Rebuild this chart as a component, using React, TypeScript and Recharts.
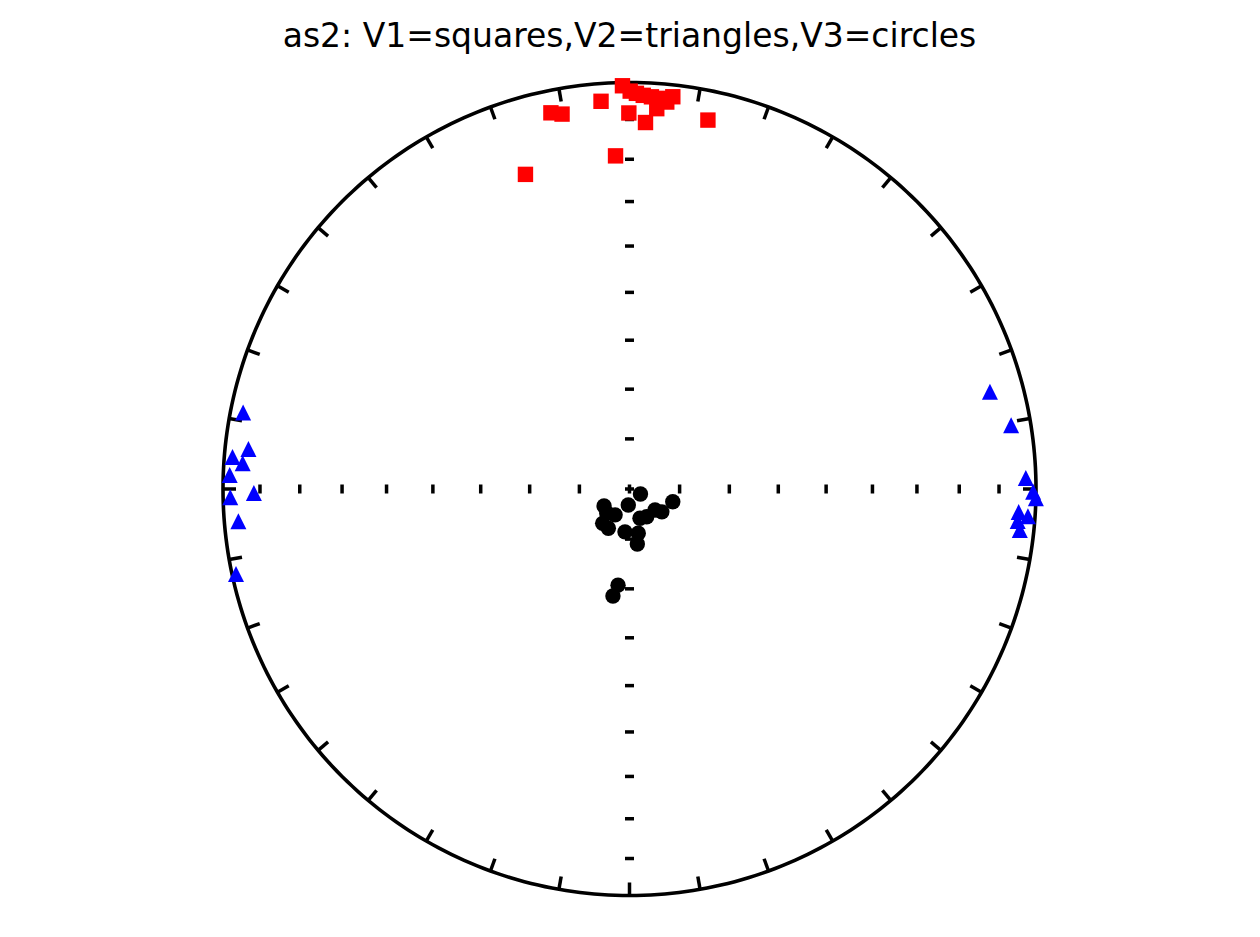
import React from 'react';
import { ScatterChart, Scatter, XAxis, YAxis, ReferenceLine } from 'recharts';

const TITLE = 'as2: V1=squares,V2=triangles,V3=circles';

// V1 eigenvectors (squares): declination / inclination (degrees)
const V1_DEC = [359.0, 0.1, 1.0, 2.0, 3.2, 4.2, 6.3, 5.5, 4.1, 359.9, 2.5, 355.8, 348.2, 349.8, 12.0, 357.6, 341.7];
const V1_INC = [0.9, 2.4, 3.0, 3.5, 3.8, 4.1, 3.3, 4.9, 6.9, 8.3, 10.7, 4.9, 6.1, 7.0, 8.0, 19.1, 19.6];

// V2 eigenvectors (triangles)
const V2_DEC = [281.2, 276.0, 274.6, 273.8, 272.0, 268.8, 269.4, 265.3, 257.8, 74.9, 80.5, 88.4, 90.4, 91.3, 93.4, 93.9, 94.7, 96.0];
const V2_INC = [3.5, 6.4, 2.3, 5.2, 1.8, 2.0, 8.4, 3.9, 1.1, 9.0, 5.4, 2.8, 0.8, 0.0, 4.6, 2.0, 4.7, 3.9];

// V3 eigenvectors (circles)
const V3_DEC = [114.4, 106.4, 236.3, 184.3, 129.5, 125.2, 209.1, 223.5, 160.3, 148.2, 218.0, 208.3, 186.0, 168.8, 171.9, 186.8, 188.8];
const V3_INC = [87.6, 81.0, 83.9, 86.8, 83.4, 82.1, 84.1, 83.4, 83.8, 83.5, 81.3, 81.1, 81.4, 81.0, 78.9, 70.6, 68.3];

// net: dip tick marks along axes, azimuth ticks around the primitive
const DIP_TICKS = [10, 20, 30, 40, 50, 60, 70, 80];
const AZ_TICKS = Array.from({ length: 36 }, (_, i) => i * 10);

const RAD = Math.PI / 180;
const eqArea = (inc: number) => Math.SQRT2 * Math.sin(((90 - inc) / 2) * RAD);
const project = (dec: number[], inc: number[]) =>
  dec.map((d, i) => {
    const r = eqArea(inc[i]);
    return { x: r * Math.sin(d * RAD), y: r * Math.cos(d * RAD) };
  });

const v1Data = project(V1_DEC, V1_INC);
const v2Data = project(V2_DEC, V2_INC);
const v3Data = project(V3_DEC, V3_INC);

const circleData = Array.from({ length: 361 }, (_, i) => ({ x: Math.sin(i * RAD), y: Math.cos(i * RAD) }));
const hTickData = [
  ...DIP_TICKS.map((d) => ({ x: -eqArea(d), y: 0 })),
  { x: 0, y: 0 },
  ...DIP_TICKS.map((d) => ({ x: eqArea(d), y: 0 })),
];
const vTickData = [
  ...DIP_TICKS.map((d) => ({ x: 0, y: -eqArea(d) })),
  { x: 0, y: 0 },
  ...DIP_TICKS.map((d) => ({ x: 0, y: eqArea(d) })),
];

const W = 1244;
const H = 921;
const MARGIN = { left: 215, right: 216, top: 74.5, bottom: 33.5 };
const TICK_LEN = 0.032;

const Empty = () => <g />;
const VBar = (p: any) => <rect x={p.cx - 1.75} y={p.cy - 4.5} width={3.5} height={9} fill="#000" />;
const HBar = (p: any) => <rect x={p.cx - 4.5} y={p.cy - 1.75} width={9} height={3.5} fill="#000" />;
const Square = (p: any) => <rect x={p.cx - 7.7} y={p.cy - 7.7} width={15.4} height={15.4} fill="#ff0000" />;
const Dot = (p: any) => <circle cx={p.cx} cy={p.cy} r={7.7} fill="#000" />;
const Tri = (p: any) => (
  <polygon
    points={`${p.cx},${p.cy - 8} ${p.cx - 8},${p.cy + 8} ${p.cx + 8},${p.cy + 8}`}
    fill="#0000ff"
  />
);

export default function App() {
  return (
    <div style={{ position: 'relative', width: W, height: H }}>
      <ScatterChart width={W} height={H} margin={MARGIN}>
        <XAxis type="number" dataKey="x" domain={[-1, 1]} hide />
        <YAxis type="number" dataKey="y" domain={[-1, 1]} hide />
        <Scatter
          data={circleData}
          fill="#000"
          line={{ stroke: '#000', strokeWidth: 3.6 }}
          shape={Empty}
          isAnimationActive={false}
        />
        {AZ_TICKS.map((a) => (
          <ReferenceLine
            key={a}
            ifOverflow="visible"
            stroke="#000"
            strokeWidth={3.5}
            segment={[
              { x: Math.sin(a * RAD), y: Math.cos(a * RAD) },
              { x: (1 - TICK_LEN) * Math.sin(a * RAD), y: (1 - TICK_LEN) * Math.cos(a * RAD) },
            ]}
          />
        ))}
        <Scatter data={hTickData} shape={VBar} isAnimationActive={false} />
        <Scatter data={vTickData} shape={HBar} isAnimationActive={false} />
        <Scatter data={v1Data} shape={Square} isAnimationActive={false} />
        <Scatter data={v2Data} shape={Tri} isAnimationActive={false} />
        <Scatter data={v3Data} shape={Dot} isAnimationActive={false} />
      </ScatterChart>
      <svg
        width={W}
        height={70}
        style={{ position: 'absolute', left: 0, top: 0, pointerEvents: 'none' }}
      >
        <text
          x={621.5}
          y={38.5}
          textAnchor="middle"
          fontFamily="DejaVu Sans"
          fontSize={33}
          fill="#000"
        >
          {TITLE}
        </text>
      </svg>
    </div>
  );
}
